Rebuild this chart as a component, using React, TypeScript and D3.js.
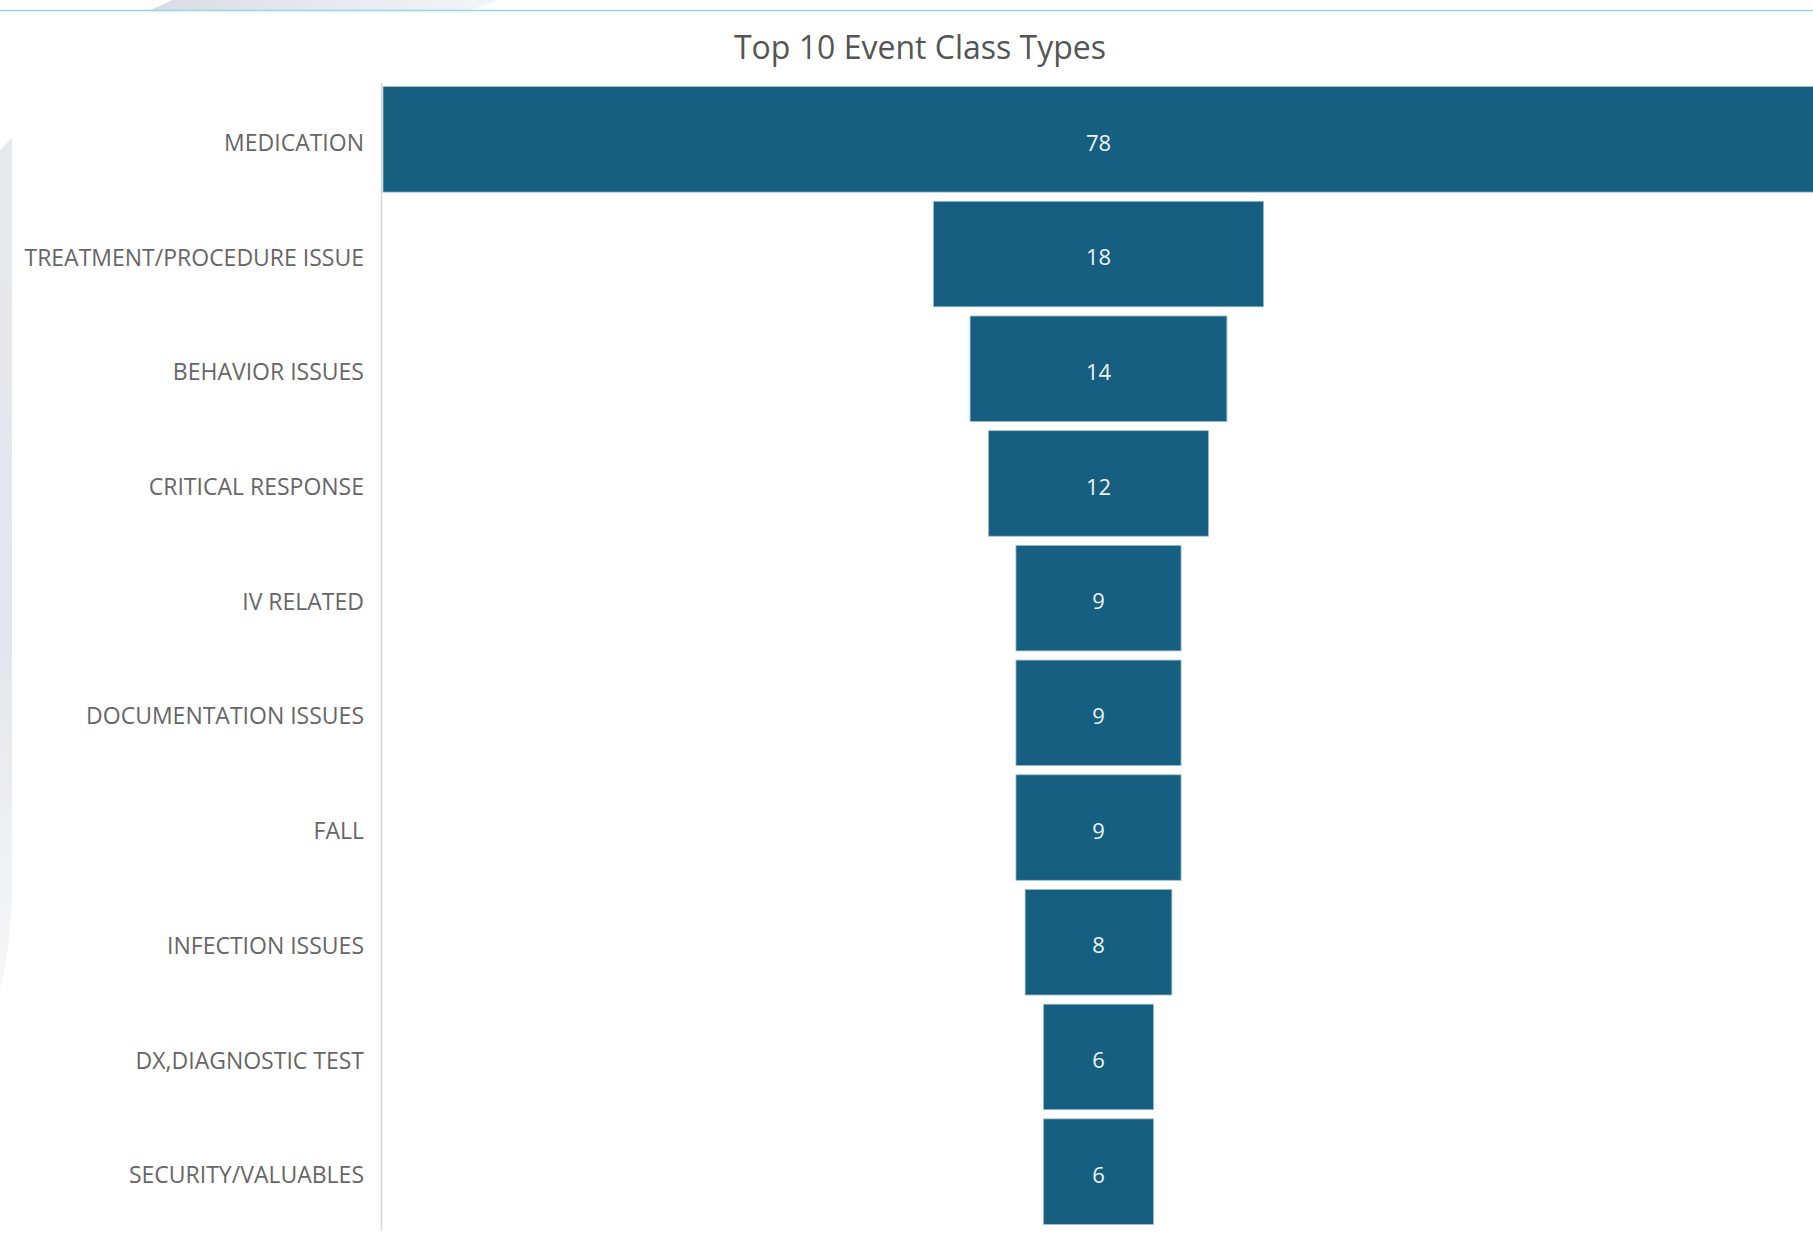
import React from "react";
import * as d3 from "d3";

const categories = [
  "MEDICATION",
  "TREATMENT/PROCEDURE ISSUE",
  "BEHAVIOR ISSUES",
  "CRITICAL RESPONSE",
  "IV RELATED",
  "DOCUMENTATION ISSUES",
  "FALL",
  "INFECTION ISSUES",
  "DX,DIAGNOSTIC TEST",
  "SECURITY/VALUABLES",
];
const values = [78, 18, 14, 12, 9, 9, 9, 8, 6, 6];
const title = "Top 10 Event Class Types";

const W = 1813;
const H = 1240;
const plotLeft = 383;
const plotRight = 1814;
const plotTop = 82;
const plotBottom = 1229;
const barColor = "#175f80";

export default function App() {
  const data = categories.map((c, i) => ({ c, v: values[i] }));
  const y = d3
    .scaleBand<string>()
    .domain(categories)
    .range([plotTop, plotBottom])
    .paddingInner(0.08)
    .paddingOuter(0.04);
  const w = d3
    .scaleLinear()
    .domain([0, d3.max(values) as number])
    .range([0, plotRight - plotLeft]);
  const cx = (plotLeft + plotRight) / 2;

  return (
    <svg
      width={W}
      height={H}
      style={{ position: "absolute", left: 0, top: 0, background: "#fff" }}
    >
      <defs>
        <linearGradient id="swoosh" x1="0" x2="1" y1="0" y2="0">
          <stop offset="0" stopColor="#d9dce4" />
          <stop offset="1" stopColor="#f4f5f8" />
        </linearGradient>
        <linearGradient id="leftband" x1="0" x2="0" y1="0" y2="1">
          <stop offset="0" stopColor="#e6e8ee" />
          <stop offset="0.6" stopColor="#e3e6ec" />
          <stop offset="1" stopColor="#f6f7f9" />
        </linearGradient>
        <clipPath id="plotclip">
          <rect x={0} y={0} width={W} height={H} />
        </clipPath>
      </defs>
      {/* background decorations */}
      <path d="M173,0 L500,0 L470,10 L150,10 Z" fill="url(#swoosh)" />
      <path
        d="M0,150 L12,138 L12,900 Q10,950 0,990 Z"
        fill="url(#leftband)"
      />
      <line x1={0} x2={W} y1={10.5} y2={10.5} stroke="#8fd6ef" strokeWidth={1.5} />

      <text
        x={920}
        y={59}
        textAnchor="middle"
        fontFamily="'Open Sans', 'Segoe UI', sans-serif"
        fontSize={32}
        fill="#555555"
      >
        {title}
      </text>

      {/* axis line */}
      <line
        x1={plotLeft - 1.5}
        x2={plotLeft - 1.5}
        y1={plotTop + 1}
        y2={plotBottom + 2}
        stroke="#d6d6d6"
        strokeWidth={1.5}
      />

      <g clipPath="url(#plotclip)">
        {data.map((d) => {
          const bw = w(d.v);
          const by = y(d.c) as number;
          return (
            <g key={d.c}>
              <rect
                x={cx - bw / 2}
                y={by}
                width={bw}
                height={y.bandwidth()}
                fill={barColor}
                stroke="#9fc0d0"
                strokeWidth={0.8}
              />
              <text
                x={cx}
                y={by + y.bandwidth() / 2 + 3.5}
                dy="0.35em"
                textAnchor="middle"
                fontFamily="'Open Sans', 'Segoe UI', sans-serif"
                fontSize={22}
                fill="#eef3f6"
              >
                {d.v}
              </text>
            </g>
          );
        })}
      </g>

      {data.map((d) => (
        <text
          key={"l" + d.c}
          x={364}
          y={(y(d.c) as number) + y.bandwidth() / 2 + 3.5}
          dy="0.35em"
          textAnchor="end"
          fontFamily="'Open Sans', 'Segoe UI', sans-serif"
          fontSize={23}
          fill="#666666"
        >
          {d.c}
        </text>
      ))}
    </svg>
  );
}
